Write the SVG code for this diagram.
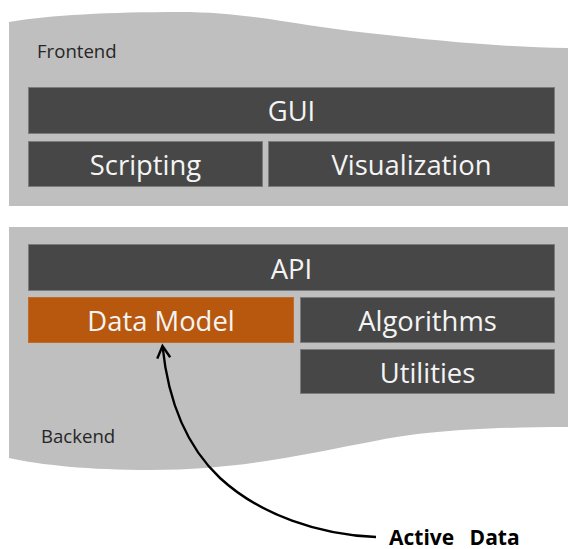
<svg xmlns="http://www.w3.org/2000/svg" width="568" height="549" viewBox="0 0 568 549">
  <style>
    .panel { fill: #bfbfbf; }
    .bar { fill: #474747; stroke: #7c7c7c; stroke-width: 1; }
    .bar.hot { fill: #b8580f; stroke: #c26a2a; }
    .bar-text { font-family: "Open Sans", "Noto Sans", "DejaVu Sans", sans-serif; font-size: 27.4px; fill: #f4f4f4; text-anchor: middle; }
    .layer-label { font-family: "Open Sans", "Noto Sans", "DejaVu Sans", sans-serif; font-size: 18.6px; fill: #262626; }
    .callout { font-family: "Open Sans", "Noto Sans", "DejaVu Sans", sans-serif; font-size: 21px; font-weight: bold; fill: #000; word-spacing: 10px; }
    .link { fill: none; stroke: #000; stroke-width: 2.4; }
  </style>
  <defs>
    <marker id="chevron" markerUnits="userSpaceOnUse" markerWidth="20" markerHeight="20" refX="0" refY="0" orient="auto" overflow="visible">
      <path d="M-12,-6.5 L0,0 L-12,6.5" fill="none" stroke="#000" stroke-width="2.4" stroke-linejoin="miter"/>
    </marker>
  </defs>

  <!-- frontend layer -->
  <g id="frontend">
    <path class="panel" d="M9,22 C50,15 110,12 180,12 C250,12 300,26 368,33 C440,41 500,47 568,48 L568,206 L9,206 Z"/>
    <text class="layer-label" x="37" y="58">Frontend</text>
  </g>
  <g id="gui">
    <rect class="bar" x="28.5" y="87.5" width="526" height="46"/>
    <text class="bar-text" x="291.5" y="121">GUI</text>
  </g>
  <g id="scripting">
    <rect class="bar" x="28.5" y="141.5" width="234" height="45"/>
    <text class="bar-text" x="145.5" y="175">Scripting</text>
  </g>
  <g id="visualization">
    <rect class="bar" x="268.5" y="141.5" width="286" height="45"/>
    <text class="bar-text" x="411.5" y="175">Visualization</text>
  </g>

  <!-- backend layer -->
  <g id="backend">
    <path class="panel" d="M9,227 L568,227 L568,427 C480,427 420,432 380,440 C300,455 240,470 150,470 C90,470 40,465 9,458 Z"/>
    <text class="layer-label" x="41" y="443">Backend</text>
  </g>
  <g id="api">
    <rect class="bar" x="28.5" y="244.5" width="526" height="46"/>
    <text class="bar-text" x="291.5" y="279">API</text>
  </g>
  <g id="data-model">
    <rect class="bar hot" x="28.5" y="297.5" width="265" height="45"/>
    <text class="bar-text" x="161" y="331">Data Model</text>
  </g>
  <g id="algorithms">
    <rect class="bar" x="300.5" y="297.5" width="254" height="45"/>
    <text class="bar-text" x="427.5" y="331">Algorithms</text>
  </g>
  <g id="utilities">
    <rect class="bar" x="300.5" y="349.5" width="254" height="44"/>
    <text class="bar-text" x="427.5" y="383">Utilities</text>
  </g>

  <!-- callout -->
  <g id="active-data">
    <text class="callout" x="389" y="545">Active Data</text>
  </g>
  <g id="connectors">
    <path class="link" d="M376,537 C320,535 260,515 220,478 C185,445 168,400 162.5,346" marker-end="url(#chevron)"/>
  </g>
</svg>
